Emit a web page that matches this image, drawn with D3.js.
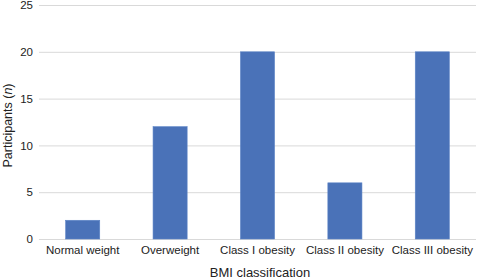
<!DOCTYPE html>
<html>
<head>
<meta charset="utf-8">
<script src="https://cdn.jsdelivr.net/npm/d3@7"></script>
<style>
  body { margin: 0; background: #fff; }
  text { font-family: "Liberation Sans", Arial, sans-serif; fill: #222; }
</style>
</head>
<body>
<div id="app"></div>
<script>
// data
var categories = ["Normal weight", "Overweight", "Class I obesity", "Class II obesity", "Class III obesity"];
var participants = [2, 12, 20, 6, 20];
var yTicks = [0, 5, 10, 15, 20, 25];

var width = 478, height = 279;
var margin = {top: 5, right: 2, bottom: 40, left: 39};
var innerW = width - margin.left - margin.right;
var innerH = height - margin.top - margin.bottom;

var svg = d3.select("#app")
  .append("svg")
    .attr("width", width)
    .attr("height", height);

var g = svg.append("g")
  .attr("transform", "translate(" + margin.left + "," + margin.top + ")");

// scales
var x = d3.scaleBand()
  .domain(categories)
  .range([0, innerW])
  .paddingInner(0.61)
  .paddingOuter(0.305);

var y = d3.scaleLinear()
  .domain([0, 25])
  .range([innerH, 0]);

// gridlines
g.selectAll(".grid")
  .data(yTicks)
  .join("line")
    .attr("class", "grid")
    .attr("x1", 0)
    .attr("x2", innerW)
    .attr("y1", d => y(d) + 0.5)
    .attr("y2", d => y(d) + 0.5)
    .attr("stroke", "#d9d9d9")
    .attr("stroke-width", 1);

// y axis labels
var yAxis = g.append("g")
  .call(d3.axisLeft(y).tickValues(yTicks).tickSize(0).tickPadding(6));
yAxis.select(".domain").remove();
yAxis.selectAll("text")
  .style("font-size", "11.5px")
  .style("font-family", "'Liberation Sans', Arial, sans-serif")
  .attr("fill", "#222");

// bars
g.selectAll(".bar")
  .data(categories)
  .join("rect")
    .attr("class", "bar")
    .attr("x", d => x(d))
    .attr("y", (d, i) => y(participants[i]))
    .attr("width", x.bandwidth())
    .attr("height", (d, i) => innerH - y(participants[i]))
    .attr("fill", "#4a72b8")
    .attr("stroke", "#5b83c6")
    .attr("stroke-width", 0.6);

// x axis labels
var xAxis = g.append("g")
  .attr("transform", "translate(0," + innerH + ")")
  .call(d3.axisBottom(x).tickSize(0).tickPadding(7));
xAxis.select(".domain").remove();
xAxis.selectAll("text")
  .style("font-size", "11.5px")
  .style("font-family", "'Liberation Sans', Arial, sans-serif")
  .attr("fill", "#222");

// axis titles
svg.append("text")
  .attr("x", 260)
  .attr("y", 277)
  .attr("text-anchor", "middle")
  .style("font-size", "13px")
  .text("BMI classification");

var yt = svg.append("text")
  .attr("transform", "translate(12,125.5) rotate(-90)")
  .attr("text-anchor", "middle")
  .style("font-size", "12.5px");
yt.append("tspan").text("Participants (");
yt.append("tspan").style("font-style", "italic").text("n");
yt.append("tspan").text(")");
</script>
</body>
</html>
